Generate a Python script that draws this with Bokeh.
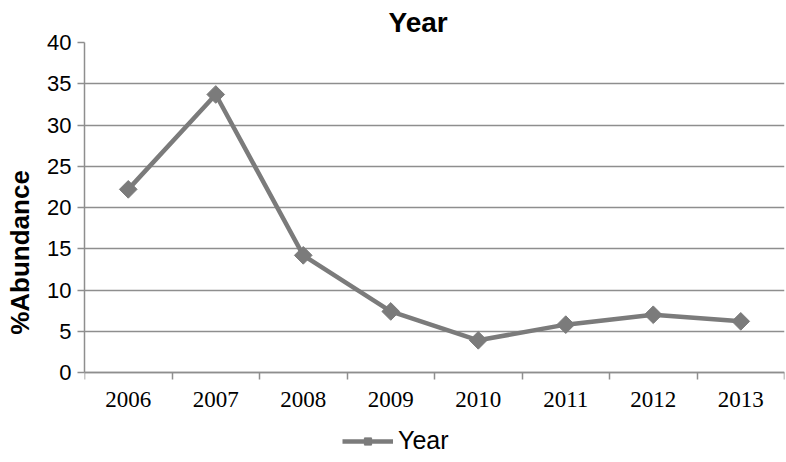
import numpy as np
from bokeh.plotting import figure
from bokeh.models import Range1d, FixedTicker, Legend, LegendItem
from bokeh.embed import file_html
from bokeh.resources import INLINE

# ---- data ----
years = [2006, 2007, 2008, 2009, 2010, 2011, 2012, 2013]
abundance = [22.2, 33.7, 14.2, 7.4, 3.9, 5.8, 7.0, 6.2]
y_ticks = [0, 5, 10, 15, 20, 25, 30, 35, 40]
year_labels = [str(y) for y in years]
series_name = "Year"
chart_title = "Year"
y_label = "%Abundance"

GRAY = "#7b7b7b"
GRID = "#8e8e8e"

# The frame runs to the bottom of the canvas so that the legend (drawn inside the
# frame) is not clipped; the x axis is pinned at y = 0 and the y axis is bounded.
PX_PER_UNIT = 330 / (y_ticks[-1] - y_ticks[0])
y_start = y_ticks[0] - 90 / PX_PER_UNIT

p = figure(width=786, height=462, output_backend="svg", toolbar_location=None,
           x_range=Range1d(years[0] - 0.5, years[-1] + 0.5),
           y_range=Range1d(y_start, y_ticks[-1]),
           min_border_left=84, min_border_right=2, min_border_top=42,
           min_border_bottom=0)
p.outline_line_color = None
p.background_fill_color = "white"

# title
p.title.text = chart_title
p.title.text_font = "Liberation Sans"
p.title.text_font_size = "28px"
p.title.text_font_style = "bold"
p.title.text_color = "black"
p.title.align = "left"
p.title.offset = 304
p.title.standoff = 9
p.title.vertical_align = "bottom"

# series
r_line = p.line(years, abundance, line_color=GRAY, line_width=4.5)
r_pts = p.scatter(years, abundance, marker="square", size=12.5, angle=np.pi / 4,
                  fill_color=GRAY, line_color=GRAY)

# y axis
p.yaxis.ticker = FixedTicker(ticks=y_ticks)
p.yaxis.bounds = (y_ticks[0], y_ticks[-1])
p.yaxis.major_tick_out = 7
p.yaxis.major_tick_in = 0
p.yaxis.minor_tick_out = 0
p.yaxis.minor_tick_in = 0
p.yaxis.major_tick_line_color = GRID
p.yaxis.major_tick_line_width = 1.5
p.yaxis.axis_line_color = GRID
p.yaxis.axis_line_width = 1.5
p.yaxis.major_label_text_font = "Liberation Sans"
p.yaxis.major_label_text_font_size = "22px"
p.yaxis.major_label_text_color = "black"
p.yaxis.major_label_standoff = 6
p.yaxis.axis_label = y_label
p.yaxis.axis_label_text_font = "Liberation Sans"
p.yaxis.axis_label_text_font_size = "26px"
p.yaxis.axis_label_text_font_style = "bold"
p.yaxis.axis_label_text_color = "black"
p.yaxis.axis_label_standoff = 9

# x axis: labels at category centres, ticks between categories
boundaries = [y - 0.5 for y in years] + [years[-1] + 0.5]
p.xaxis.fixed_location = y_ticks[0]
p.xaxis.ticker = FixedTicker(ticks=years, minor_ticks=boundaries)
p.xaxis.major_label_overrides = {y: lab for y, lab in zip(years, year_labels)}
p.xaxis.major_tick_out = 0
p.xaxis.major_tick_in = 0
p.xaxis.minor_tick_out = 7
p.xaxis.minor_tick_in = 0
p.xaxis.minor_tick_line_color = GRID
p.xaxis.minor_tick_line_width = 1.5
p.xaxis.axis_line_color = GRID
p.xaxis.axis_line_width = 1.5
p.xaxis.major_label_text_font = "Liberation Serif"
p.xaxis.major_label_text_font_size = "23px"
p.xaxis.major_label_text_color = "black"
p.xaxis.major_label_standoff = 12

# grid
p.xgrid.visible = False
p.ygrid.ticker = FixedTicker(ticks=y_ticks)
p.ygrid.grid_line_color = GRID
p.ygrid.grid_line_width = 1.4

# legend
legend = Legend(items=[LegendItem(label=series_name, renderers=[r_line, r_pts])],
                location=(258, 7), orientation="horizontal",
                padding=0, margin=0, spacing=0,
                border_line_color=None, background_fill_alpha=0,
                glyph_width=51, glyph_height=18, label_height=18,
                label_standoff=5, label_text_font="Liberation Sans",
                label_text_font_size="25px", label_text_color="black")
p.add_layout(legend, "center")

open("out.html", "w").write(file_html(p, INLINE))
